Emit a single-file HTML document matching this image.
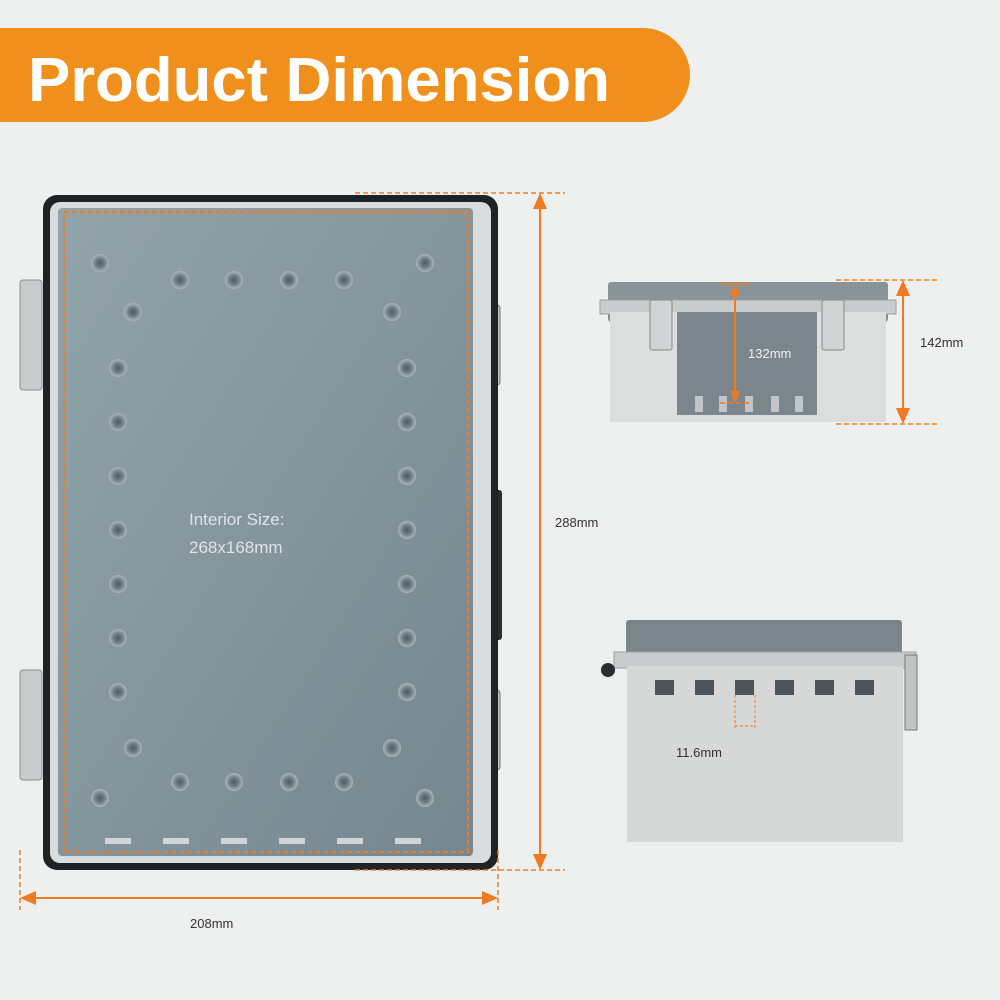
<!DOCTYPE html>
<html><head><meta charset="utf-8"><style>
html,body{margin:0;padding:0;background:#eef0ef}
svg{display:block}
text{font-family:"Liberation Sans",sans-serif}
</style></head><body>
<svg width="1000" height="1000" viewBox="0 0 1000 1000" xmlns="http://www.w3.org/2000/svg">
<defs>
<linearGradient id="inner" x1="0" y1="0" x2="1" y2="1">
<stop offset="0" stop-color="#93a3aa"/><stop offset="0.5" stop-color="#84959c"/><stop offset="1" stop-color="#768790"/>
</linearGradient>
<radialGradient id="boss"><stop offset="0" stop-color="#4f5d63"/><stop offset="0.45" stop-color="#6a7a80"/><stop offset="1" stop-color="#aab6ba"/></radialGradient>
</defs>
<rect width="1000" height="1000" fill="#eef0ef"/>
<path d="M0 28 H643 A47 47 0 0 1 643 122 H0 Z" fill="#f0901c"/>
<text x="28" y="101" font-size="62" font-weight="bold" fill="#fff" textLength="582" lengthAdjust="spacingAndGlyphs">Product Dimension</text>

<rect x="20" y="280" width="22" height="110" rx="3" fill="#c8cccc" stroke="#8a9090"/>
<rect x="20" y="670" width="22" height="110" rx="3" fill="#c8cccc" stroke="#8a9090"/>
<rect x="486" y="305" width="14" height="80" rx="3" fill="#c0c4c4" stroke="#707676"/>
<rect x="486" y="690" width="14" height="80" rx="3" fill="#c0c4c4" stroke="#707676"/>
<rect x="484" y="490" width="18" height="150" rx="3" fill="#2a2e30"/>
<rect x="43" y="195" width="455" height="675" rx="14" fill="#1e2224"/>
<rect x="50" y="202" width="441" height="661" rx="10" fill="#d8dcdc"/>
<rect x="58" y="208" width="415" height="648" rx="4" fill="url(#inner)"/>
<rect x="64" y="212" width="404" height="640" fill="none" stroke="#f07a20" stroke-width="2" stroke-dasharray="5,3"/>
<g fill="url(#boss)">
<circle cx="100" cy="263" r="9"/><circle cx="180" cy="280" r="9"/><circle cx="234" cy="280" r="9"/><circle cx="289" cy="280" r="9"/><circle cx="344" cy="280" r="9"/><circle cx="425" cy="263" r="9"/>
<circle cx="133" cy="312" r="9"/><circle cx="392" cy="312" r="9"/>
<circle cx="118" cy="368" r="9"/><circle cx="118" cy="422" r="9"/><circle cx="118" cy="476" r="9"/><circle cx="118" cy="530" r="9"/><circle cx="118" cy="584" r="9"/><circle cx="118" cy="638" r="9"/><circle cx="118" cy="692" r="9"/>
<circle cx="407" cy="368" r="9"/><circle cx="407" cy="422" r="9"/><circle cx="407" cy="476" r="9"/><circle cx="407" cy="530" r="9"/><circle cx="407" cy="584" r="9"/><circle cx="407" cy="638" r="9"/><circle cx="407" cy="692" r="9"/>
<circle cx="133" cy="748" r="9"/><circle cx="392" cy="748" r="9"/>
<circle cx="180" cy="782" r="9"/><circle cx="234" cy="782" r="9"/><circle cx="289" cy="782" r="9"/><circle cx="344" cy="782" r="9"/>
<circle cx="100" cy="798" r="9"/><circle cx="425" cy="798" r="9"/>
</g>
<g fill="#d0d6d8"><rect x="105" y="838" width="26" height="6"/><rect x="163" y="838" width="26" height="6"/><rect x="221" y="838" width="26" height="6"/><rect x="279" y="838" width="26" height="6"/><rect x="337" y="838" width="26" height="6"/><rect x="395" y="838" width="26" height="6"/></g>
<text x="189" y="525" font-size="17" fill="#dfe4e6">Interior Size:</text>
<text x="189" y="553" font-size="17" fill="#dfe4e6">268x168mm</text>

<g stroke="#f07a20" stroke-width="1.5" stroke-dasharray="5,3" fill="none">
<line x1="355" y1="193" x2="565" y2="193"/><line x1="355" y1="870" x2="565" y2="870"/>
<line x1="20" y1="850" x2="20" y2="910"/><line x1="498" y1="850" x2="498" y2="910"/>
</g>
<g stroke="#f07a20" stroke-width="2"><line x1="540" y1="205" x2="540" y2="858"/><line x1="32" y1="898" x2="486" y2="898"/></g>
<g fill="#f07a20"><path d="M540 193 l-7 16 h14z"/><path d="M540 870 l-7 -16 h14z"/><path d="M20 898 l16 -7 v14z"/><path d="M498 898 l-16 -7 v14z"/></g>
<text x="555" y="527" font-size="13" fill="#333">288mm</text>
<text x="190" y="928" font-size="13" fill="#333">208mm</text>

<rect x="608" y="282" width="280" height="40" rx="3" fill="#8a9498"/>
<rect x="600" y="300" width="296" height="14" fill="#c8cccc" stroke="#9aa0a0"/>
<rect x="610" y="312" width="276" height="110" fill="#dcdede"/>
<rect x="677" y="312" width="140" height="103" fill="#7a868c"/>
<g fill="#c0c6c8"><rect x="695" y="396" width="8" height="16"/><rect x="719" y="396" width="8" height="16"/><rect x="745" y="396" width="8" height="16"/><rect x="771" y="396" width="8" height="16"/><rect x="795" y="396" width="8" height="16"/></g>
<rect x="650" y="300" width="22" height="50" rx="2" fill="#d0d4d4" stroke="#888"/>
<rect x="822" y="300" width="22" height="50" rx="2" fill="#d0d4d4" stroke="#888"/>
<text x="748" y="358" font-size="13" fill="#f0f0f0">132mm</text>
<g stroke="#f07a20" stroke-width="1.5" stroke-dasharray="5,3"><line x1="836" y1="280" x2="940" y2="280"/><line x1="836" y1="424" x2="940" y2="424"/><line x1="720" y1="284" x2="750" y2="284"/><line x1="720" y1="403" x2="750" y2="403"/></g>
<g stroke="#f07a20" stroke-width="2"><line x1="903" y1="292" x2="903" y2="412"/><line x1="735" y1="294" x2="735" y2="394"/></g>
<g fill="#f07a20"><path d="M903 280 l-7 16 h14z"/><path d="M903 424 l-7 -16 h14z"/><path d="M735 284 l-5 12 h10z"/><path d="M735 403 l-5 -12 h10z"/></g>
<text x="920" y="347" font-size="13" fill="#333">142mm</text>

<rect x="626" y="620" width="276" height="40" rx="3" fill="#7a868c"/>
<rect x="614" y="652" width="302" height="16" fill="#c8cccc" stroke="#9aa0a0"/>
<rect x="627" y="666" width="276" height="176" fill="#d6d8d8"/>
<g fill="#4e5558"><rect x="655" y="680" width="19" height="15"/><rect x="695" y="680" width="19" height="15"/><rect x="735" y="680" width="19" height="15"/><rect x="775" y="680" width="19" height="15"/><rect x="815" y="680" width="19" height="15"/><rect x="855" y="680" width="19" height="15"/></g>
<circle cx="608" cy="670" r="7" fill="#2a2e30"/>
<rect x="905" y="655" width="12" height="75" fill="#c0c4c4" stroke="#777"/>
<g stroke="#f07a20" stroke-width="1" stroke-dasharray="3,2"><line x1="735" y1="695" x2="735" y2="730"/><line x1="755" y1="695" x2="755" y2="730"/><line x1="735" y1="726" x2="755" y2="726"/></g>
<text x="676" y="757" font-size="13" fill="#333">11.6mm</text>
</svg>
</body></html>
